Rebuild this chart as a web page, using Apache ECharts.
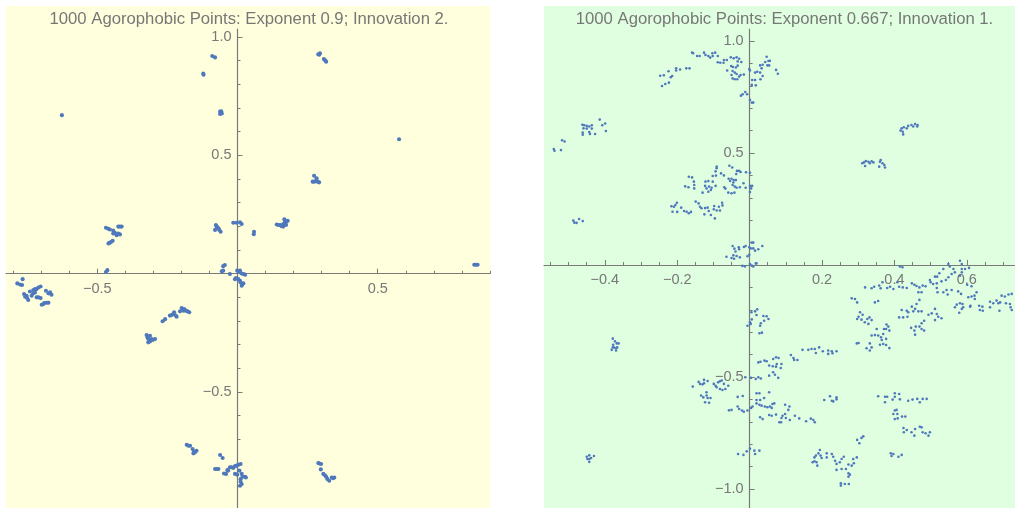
<!DOCTYPE html>
<html><head><meta charset="utf-8">
<style>html,body{margin:0;padding:0;background:#fff}#c{width:1015px;height:508px}</style>
<script src="https://cdn.jsdelivr.net/npm/echarts@6/dist/echarts.min.js"></script>
</head><body><div id="c"></div>
<script>
const leftTitle = '1000 Agorophobic Points: Exponent 0.9; Innovation 2.';
const rightTitle = '1000 Agorophobic Points: Exponent 0.667; Innovation 1.';
const leftXLabels = [-0.5, 0.5];
const leftYLabels = [-0.5, 0.5, 1.0];
const rightXLabels = [-0.4, -0.2, 0.2, 0.4, 0.6];
const rightYLabels = [-1.0, -0.5, 0.5, 1.0];
const leftXMinor = [-0.8,-0.7,-0.6,-0.4,-0.3,-0.2,-0.1,0.1,0.2,0.3,0.4,0.6,0.7,0.8,0.9];
const leftYMinor = [-0.9,-0.8,-0.7,-0.6,-0.4,-0.3,-0.2,-0.1,0.1,0.2,0.3,0.4,0.6,0.7,0.8,0.9];
const rightXMinor = [-0.55,-0.5,-0.45,-0.35,-0.3,-0.25,-0.15,-0.1,-0.05,0.05,0.1,0.15,0.25,0.3,0.35,0.45,0.5,0.55,0.65,0.7];
const rightYMinor = [-0.9,-0.8,-0.7,-0.6,-0.4,-0.3,-0.2,-0.1,0.1,0.2,0.3,0.4,0.6,0.7,0.8,0.9];

const leftPoints = [
[-.626,.670],[-.090,.920],[-.080,.914],[-.122,.846],[-.121,.841],[-.062,.685],[-.056,.677],[-.062,.675],[-.058,.686],
[-.015,.215],[-.003,.215],[.009,.217],[.015,.210],[-.077,.206],[-.072,.196],[-.080,.185],[-.068,.192],[-.060,.177],
[-.469,.194],[-.455,.187],[-.443,.182],[-.431,.163],[-.419,.166],[-.425,.199],[-.413,.199],[-.443,.170],[-.455,.131],[-.445,.139],
[.288,.927],[.294,.931],[.308,.907],[.316,.896],[.576,.568],[.273,.414],[.268,.389],[.280,.392],[.291,.386],[.282,.403],
[.140,.208],[.152,.206],[.163,.199],[.169,.213],[.175,.220],[.167,.230],[.179,.224],[.059,.177],[.058,.167],
[-.464,.015],[-.469,.007],[-.051,.032],[-.045,.037],[-.051,.013],[-.056,.010],[-.027,-.001],[-.001,.013],[.009,.013],[.015,.001],[.027,-.004],
[-.009,-.023],[.003,-.023],[.011,-.037],[.021,-.041],[.015,-.051],
[-.785,-.041],[-.775,-.046],[-.768,-.048],[-.766,-.023],[-.761,-.086],[-.752,-.093],[-.746,-.111],[-.734,-.093],[-.728,-.069],[-.716,-.065],[-.702,-.054],
[-.722,-.079],[-.716,-.100],[-.702,-.103],[-.683,-.072],[-.674,-.083],[-.663,-.089],[-.698,-.131],[-.689,-.124],[-.674,-.123],
[-.267,-.201],[-.258,-.192],[-.241,-.177],[-.229,-.170],[-.217,-.182],[-.226,-.163],[-.199,-.145],[-.193,-.156],[-.184,-.156],[-.172,-.163],
[-.324,-.259],[-.312,-.262],[-.306,-.276],[-.294,-.276],[-.318,-.290],[-.312,-.286],
[-.181,-.723],[-.169,-.727],[-.160,-.741],[-.152,-.755],[-.146,-.748],[-.157,-.759],[-.062,-.766],[-.053,-.779],
[-.080,-.825],[-.068,-.825],[-.041,-.846],[-.036,-.830],[-.027,-.818],[-.015,-.821],[-.003,-.811],[.011,-.804],[-.009,-.846],[.007,-.832],[.015,-.846],[.027,-.858],[.011,-.868],[.015,-.889],[.009,-.896],[.030,-.861],
[.850,.038],[.288,-.800],[.298,-.804],[.297,-.827],[.306,-.846],[.316,-.858],[.327,-.875],[.336,-.861],[.345,-.861],
[-.757,-.097],[-.750,-.103],[-.740,-.075],[-.722,-.065],[-.710,-.058],[-.728,-.083],[-.710,-.100],[-.668,-.079],[-.692,-.128],[-.680,-.123],
[-.461,.190],[-.437,.173],[-.425,.170],[-.419,.199],[-.450,.135],[-.460,.128],
[-.205,-.159],[-.190,-.149],[-.178,-.159],[-.235,-.175],[-.220,-.177],[-.318,-.276],[-.321,-.269],[-.302,-.280],
[-.175,-.727],[-.155,-.751],[-.074,-.825],[-.048,-.844],[-.033,-.832],[-.021,-.818],[-.009,-.813],[.003,-.807],[-.001,-.849],[.018,-.858],[.011,-.879],
[.320,-.867],[.341,-.864],[.312,-.852],[.292,-.802],
[.006,.006],[.021,-.001],[-.005,-.018],[.009,-.030],[.017,-.044],[-.074,.199],[-.065,.185],
[.844,.038],[.856,.038],[.146,.206],[.157,.201],[.163,.210],[.173,.206],[.169,.224],[.274,.389],[.286,.389],[.291,.925],[.312,.902]
];

const rightPoints = [
[-.247,.845],[-.237,.847],[-.242,.799],[-.233,.808],[-.223,.814],[-.218,.838],[-.214,.844],[-.224,.865],[-.203,.878],[-.203,.868],[-.192,.873],[-.175,.878],[-.166,.878],
[-.159,.949],[-.156,.945],[-.145,.933],[-.138,.933],[-.126,.948],[-.122,.938],[-.114,.933],[-.109,.926],[-.103,.945],[-.102,.933],[-.095,.948],[-.088,.933],[-.088,.905],[-.081,.903],[-.072,.903],[-.071,.915],[-.063,.915],
[-.052,.927],[-.044,.923],[-.036,.927],[-.029,.921],[-.033,.909],[-.023,.906],[-.051,.888],[-.046,.884],[-.038,.882],[-.033,.890],[-.062,.868],[-.047,.866],[-.041,.859],[-.050,.848],[-.036,.853],[-.025,.848],[-.016,.850],[-.047,.833],[-.041,.829],[-.034,.829],[-.029,.841],
[-.001,.875],[.001,.868],[.015,.859],[.021,.863],[.029,.859],[.033,.878],[.029,.891],[.036,.894],[.047,.930],[.043,.906],[.052,.911],[.056,.912],[.054,.891],[.049,.891],[.007,.826],[.015,.826],[.006,.804],[.017,.802],[.030,.829],[.036,.844],[.073,.871],[.078,.854],
[-.024,.756],[-.019,.762],[-.012,.772],[-.007,.762],[.001,.737],[.006,.725],[.010,.725],
[-.462,.626],[-.457,.624],[-.450,.621],[-.459,.610],[-.450,.609],[-.443,.618],[-.436,.624],[-.436,.609],[-.461,.591],[-.461,.582],[-.443,.594],[-.441,.585],[-.427,.585],[-.414,.649],[-.407,.624],[-.399,.632],[-.397,.598],
[-.541,.518],[-.539,.510],[-.521,.513],[-.518,.557],[-.511,.551],[-.487,.198],[-.484,.189],[-.478,.188],[-.471,.205],[-.461,.196],
[-.091,.439],[-.091,.432],[-.094,.418],[-.102,.397],[-.093,.399],[-.079,.409],[-.071,.400],[-.056,.443],[-.048,.435],[-.035,.420],[-.029,.420],[-.025,.415],[-.037,.406],[-.010,.414],[.001,.412],
[-.058,.385],[-.050,.385],[-.044,.379],[-.054,.375],[-.045,.368],[-.038,.379],[-.047,.357],[-.041,.350],[-.070,.347],[-.067,.341],[-.027,.347],[-.017,.365],[-.011,.345],[-.036,.345],[-.059,.323],[-.050,.320],[-.042,.323],[.001,.353],[.007,.353],[.004,.342],[.001,.326],
[-.168,.394],[-.159,.391],[-.154,.372],[-.178,.351],[-.169,.347],[-.153,.357],[-.153,.342],[-.122,.372],[-.114,.375],[-.102,.372],[-.123,.353],[-.119,.342],[-.112,.350],[-.105,.345],[-.094,.353],[-.114,.327],[-.130,.323],[-.107,.335],
[-.216,.262],[-.209,.260],[-.205,.268],[-.201,.278],[-.213,.238],[-.200,.237],[-.189,.256],[-.181,.241],[-.174,.238],[-.168,.231],[-.162,.237],[-.149,.283],[-.141,.275],[-.137,.260],[-.133,.253],[-.123,.254],[-.116,.256],[-.125,.226],[-.113,.241],[-.107,.223],[-.096,.208],[-.098,.263],[-.099,.249],[-.091,.243],[-.082,.243],[-.085,.260],[-.076,.278],[-.075,.266],
[-.047,.085],[-.042,.073],[-.039,.060],[-.030,.079],[-.029,.070],[-.016,.080],[-.011,.085],[-.001,.079],[.006,.100],[.010,.100],[.003,.074],[.010,.074],[.015,.064],[.024,.070],[.035,.085],
[-.064,.037],[-.050,.031],[-.043,.028],[-.036,.040],[-.027,.034],[-.045,.043],[-.006,.039],[-.001,.046],[-.020,-.004],[-.013,-.007],[.001,.004],[.006,-.003],[.010,-.007],[.017,.007],[.019,.007],
[.005,-.211],[.015,-.207],[.021,-.198],[.019,-.223],[.006,-.243],[.001,-.256],[.003,-.263],[-.006,-.271],[.038,-.228],[.047,-.229],[.052,-.241],[.040,-.249],[.031,-.260],[.029,-.271],[.027,-.305],[.034,-.302],
[-.378,-.329],[-.372,-.341],[-.367,-.350],[-.362,-.350],[-.377,-.356],[-.378,-.368],[-.381,-.379],[-.375,-.368],[-.369,-.372],[-.366,-.368],[-.369,-.382],
[-.450,-.856],[-.443,-.850],[-.430,-.853],[-.448,-.866],[-.443,-.866],[-.443,-.879],[-.438,-.862],
[-.157,-.543],[-.141,-.522],[-.137,-.531],[-.130,-.533],[-.126,-.513],[-.126,-.528],[-.116,-.518],[-.099,-.531],[-.094,-.539],[-.091,-.546],[-.087,-.524],[-.082,-.519],[-.077,-.516],[-.082,-.554],[-.075,-.558],[-.071,-.531],[-.067,-.554],[-.059,-.539],
[-.134,-.583],[-.128,-.591],[-.119,-.568],[-.119,-.583],[-.116,-.594],[-.108,-.594],[-.123,-.613],[-.112,-.615],
[-.033,-.589],[-.019,-.585],[-.033,-.632],[-.029,-.643],[-.021,-.650],[-.016,-.655],[-.057,-.649],[-.050,-.647],[-.006,-.650],[.004,-.638],[.008,-.632],
[-.012,-.501],[.004,-.504],[.017,-.509],[.024,-.501],[.031,-.507],[.024,-.435],[.030,-.432],[.041,-.427],[.047,-.430],[.054,-.449],[.064,-.452],[.073,-.454],[.065,-.420],[.073,-.412],[.080,-.415],[.075,-.442],[.054,-.494],[.065,-.479],[.070,-.490],[.079,-.504],
[.019,-.573],[.027,-.573],[.054,-.568],[.040,-.594],[.019,-.603],[.029,-.603],[.019,-.618],[.027,-.624],[.033,-.628],[.042,-.632],[.049,-.635],[.056,-.632],[.063,-.621],[.068,-.618],[.061,-.638],[.029,-.680],[.036,-.688],[.054,-.670],[.061,-.673],[.073,-.668],[.082,-.702],
[-.032,-.844],[-.017,-.848],[-.008,-.832],[.001,-.820],[.013,-.829],[.015,-.844],[.027,-.829],
[.549,.004],[.553,-.007],[.581,.019],[.586,.004],[.586,-.018],[.595,-.018],[.606,-.013],[.415,-.007],[.422,-.010],[.563,-.018],[.567,-.033],[.535,-.018],[.524,-.037],[.512,-.052],[.518,-.052],[.498,-.067],[.507,-.085],[.517,-.082],[.530,-.073],[.542,-.067],[.549,-.055],[.558,-.040],[.581,-.048],[.586,-.033],
[.319,-.100],[.337,-.104],[.344,-.097],[.358,-.092],[.362,-.104],[.367,-.077],[.380,-.103],[.388,-.097],[.397,-.107],[.408,-.077],[.413,-.097],[.423,-.100],[.434,-.103],[.448,-.082],[.455,-.088],[.461,-.094],[.469,-.100],[.478,-.092],[.486,-.095],[.466,-.122],[.475,-.122],
[.500,-.077],[.517,-.103],[.519,-.122],[.535,-.122],[.544,-.112],[.547,-.132],[.558,-.112],[.576,-.118],[.584,-.129],[.601,-.088],[.613,-.095],[.282,-.149],[.291,-.152],[.297,-.167],[.346,-.167],[.355,-.161],
[.604,-.144],[.613,-.141],[.621,-.137],[.627,-.122],[.622,-.152],[.610,-.182],[.609,-.186],[.567,-.189],[.572,-.177],[.581,-.171],[.588,-.174],[.590,-.189],[.586,-.196],[.579,-.213],[.634,-.182],[.643,-.186],[.636,-.201],[.644,-.204],[.664,-.164],[.673,-.171],[.664,-.189],[.682,-.159],[.687,-.171],[.692,-.167],[.696,-.137],[.705,-.141],[.715,-.132],[.724,-.129],[.708,-.171],[.719,-.174],[.721,-.189],[.724,-.201],[.690,-.204],
[.305,-.211],[.312,-.222],[.301,-.231],[.297,-.241],[.309,-.244],[.318,-.256],[.325,-.241],[.331,-.234],[.337,-.246],[.328,-.263],[.351,-.286],[.371,-.286],[.378,-.266],[.383,-.275],[.377,-.286],[.386,-.293],
[.337,-.315],[.346,-.313],[.355,-.315],[.363,-.323],[.369,-.308],[.377,-.330],[.365,-.335],[.296,-.350],[.301,-.348],[.332,-.350],[.323,-.372],[.332,-.382],[.337,-.368],[.360,-.356],[.369,-.353],[.377,-.357],[.386,-.371],
[.413,-.234],[.424,-.234],[.436,-.231],[.420,-.201],[.434,-.204],[.438,-.211],[.448,-.186],[.457,-.196],[.452,-.207],[.461,-.174],[.469,-.156],[.466,-.207],[.475,-.207],
[.494,-.222],[.503,-.216],[.512,-.196],[.517,-.219],[.521,-.231],[.512,-.246],[.530,-.238],[.482,-.249],[.475,-.260],[.469,-.275],[.459,-.275],[.446,-.281],[.455,-.293],[.457,-.311],[.475,-.286],[.482,-.293],
[.146,-.379],[.162,-.379],[.171,-.375],[.180,-.375],[.192,-.368],[.183,-.393],[.202,-.385],[.217,-.382],[.217,-.397],[.227,-.385],[.229,-.394],[.240,-.385],[.114,-.402],[.121,-.415],[.123,-.424],[.132,-.424],[.088,-.442],[.086,-.460],
[.206,-.603],[.222,-.586],[.227,-.606],[.231,-.609],[.240,-.591],[.240,-.600],[.355,-.586],[.374,-.588],[.380,-.588],[.374,-.613],[.395,-.601],[.401,-.573],[.413,-.576],[.401,-.588],[.415,-.600],[.438,-.606],[.450,-.601],[.463,-.598],[.470,-.613],[.478,-.598],[.489,-.598],
[.401,-.650],[.406,-.647],[.397,-.665],[.408,-.665],[.401,-.688],[.409,-.685],[.421,-.677],[.430,-.677],[.425,-.728],[.426,-.747],[.434,-.737],[.447,-.747],[.455,-.762],[.457,-.732],[.470,-.722],[.475,-.725],[.478,-.747],[.486,-.751],[.494,-.762],[.498,-.747],
[.314,-.765],[.309,-.772],[.297,-.781],[.303,-.796],[.390,-.841],[.397,-.844],[.392,-.853],[.411,-.856],[.420,-.848],
[.098,-.624],[.110,-.632],[.107,-.647],[.098,-.665],[.091,-.673],[.088,-.683],[.087,-.702],[.100,-.683],[.111,-.692],[.125,-.673],[.137,-.685],[.156,-.698],[.169,-.686],[.176,-.692],[.180,-.702],
[.194,-.826],[.190,-.841],[.183,-.851],[.179,-.859],[.196,-.851],[.199,-.862],[.213,-.841],[.213,-.859],[.227,-.844],[.231,-.856],[.174,-.881],[.179,-.876],[.185,-.881],[.187,-.896],[.236,-.874],[.240,-.888],[.249,-.881],[.254,-.866],[.260,-.856],[.240,-.915],[.254,-.911],[.266,-.911],[.273,-.891],[.282,-.896],[.288,-.885],[.286,-.866],[.296,-.859],[.273,-.930],[.277,-.936],[.273,-.945],[.252,-.975],[.263,-.978],[.274,-.978],[.252,-.985],
[.311,.454],[.316,.458],[.321,.464],[.328,.461],[.332,.454],[.337,.463],[.342,.458],[.319,.442],[.358,.439],[.360,.461],[.362,.469],[.367,.454],[.372,.446],[.374,.435],
[.417,.600],[.420,.610],[.426,.615],[.434,.610],[.438,.621],[.447,.625],[.452,.618],[.457,.629],[.464,.625],[.463,.618],[.424,.583],[.423,.595]
];

const font = '"Liberation Sans", Arial, sans-serif';
const grey = '#777777';
const axisGrey = '#7a7a7a';
const blue = '#4F78BC';
const fmt = v => Number(v).toFixed(1).replace('-', '\u2212');

// The axis crosses its partner at zero; the inward shift follows from the partner's range and size.
function axis(kind, gridIndex, range, major, minor, isMinor, crossRange, crossSize) {
  return {
    type: 'value', gridIndex, min: range[0], max: range[1],
    position: kind === 'x' ? 'bottom' : 'left',
    offset: -crossSize * (0 - crossRange[0]) / (crossRange[1] - crossRange[0]),
    splitLine: { show: false },
    axisLine: { show: !isMinor, onZero: false, lineStyle: { color: axisGrey, width: 1.2 } },
    axisTick: { show: true, inside: true, length: isMinor ? 3 : 5, customValues: isMinor ? minor : major, lineStyle: { color: axisGrey, width: 1 } },
    minorTick: { show: false },
    axisLabel: isMinor ? { show: false } : {
      show: true, customValues: major, formatter: fmt, color: grey,
      fontFamily: font, fontSize: 14.5, margin: kind === 'x' ? 8 : 6
    }
  };
}
function scatter(g, data, size) {
  return { type: 'scatter', xAxisIndex: g * 2, yAxisIndex: g * 2, data, symbol: 'circle', symbolSize: size,
    itemStyle: { color: blue, opacity: 1 }, silent: true, z: 5 };
}
const lx = [-0.8253, 0.9002], ly = [-0.990, 1.034];
const rx = [-0.568, 0.733], ry = [-1.085, 1.0536];

const option = {
  animation: false,
  backgroundColor: '#ffffff',
  graphic: [
    { type: 'rect', z: -10, silent: true, shape: { x: 6, y: 6, width: 484, height: 502 }, style: { fill: '#FFFFDD' } },
    { type: 'rect', z: -10, silent: true, shape: { x: 544, y: 6, width: 471, height: 502 }, style: { fill: '#E0FFE0' } }
  ],
  title: [
    { text: leftTitle, left: 244, top: 6, textAlign: 'center', textStyle: { color: grey, fontFamily: font, fontSize: 16.7, fontWeight: 'normal' } },
    { text: rightTitle, left: 779.5, top: 6, textAlign: 'center', textStyle: { color: grey, fontFamily: font, fontSize: 16.7, fontWeight: 'normal' } }
  ],
  grid: [
    { left: 6, top: 29, width: 484, height: 479, outerBoundsMode: 'none' },
    { left: 544, top: 29, width: 471, height: 479, outerBoundsMode: 'none' }
  ],
  xAxis: [
    axis('x', 0, lx, leftXLabels, leftXMinor, false, ly, 479),
    axis('x', 0, lx, leftXLabels, leftXMinor, true, ly, 479),
    axis('x', 1, rx, rightXLabels, rightXMinor, false, ry, 479),
    axis('x', 1, rx, rightXLabels, rightXMinor, true, ry, 479)
  ],
  yAxis: [
    axis('y', 0, ly, leftYLabels, leftYMinor, false, lx, 484),
    axis('y', 0, ly, leftYLabels, leftYMinor, true, lx, 484),
    axis('y', 1, ry, rightYLabels, rightYMinor, false, rx, 471),
    axis('y', 1, ry, rightYLabels, rightYMinor, true, rx, 471)
  ],
  series: [scatter(0, leftPoints, 4.1), scatter(1, rightPoints, 2.6)]
};
echarts.init(document.getElementById('c'), null, { renderer: 'canvas' }).setOption(option);
</script></body></html>
